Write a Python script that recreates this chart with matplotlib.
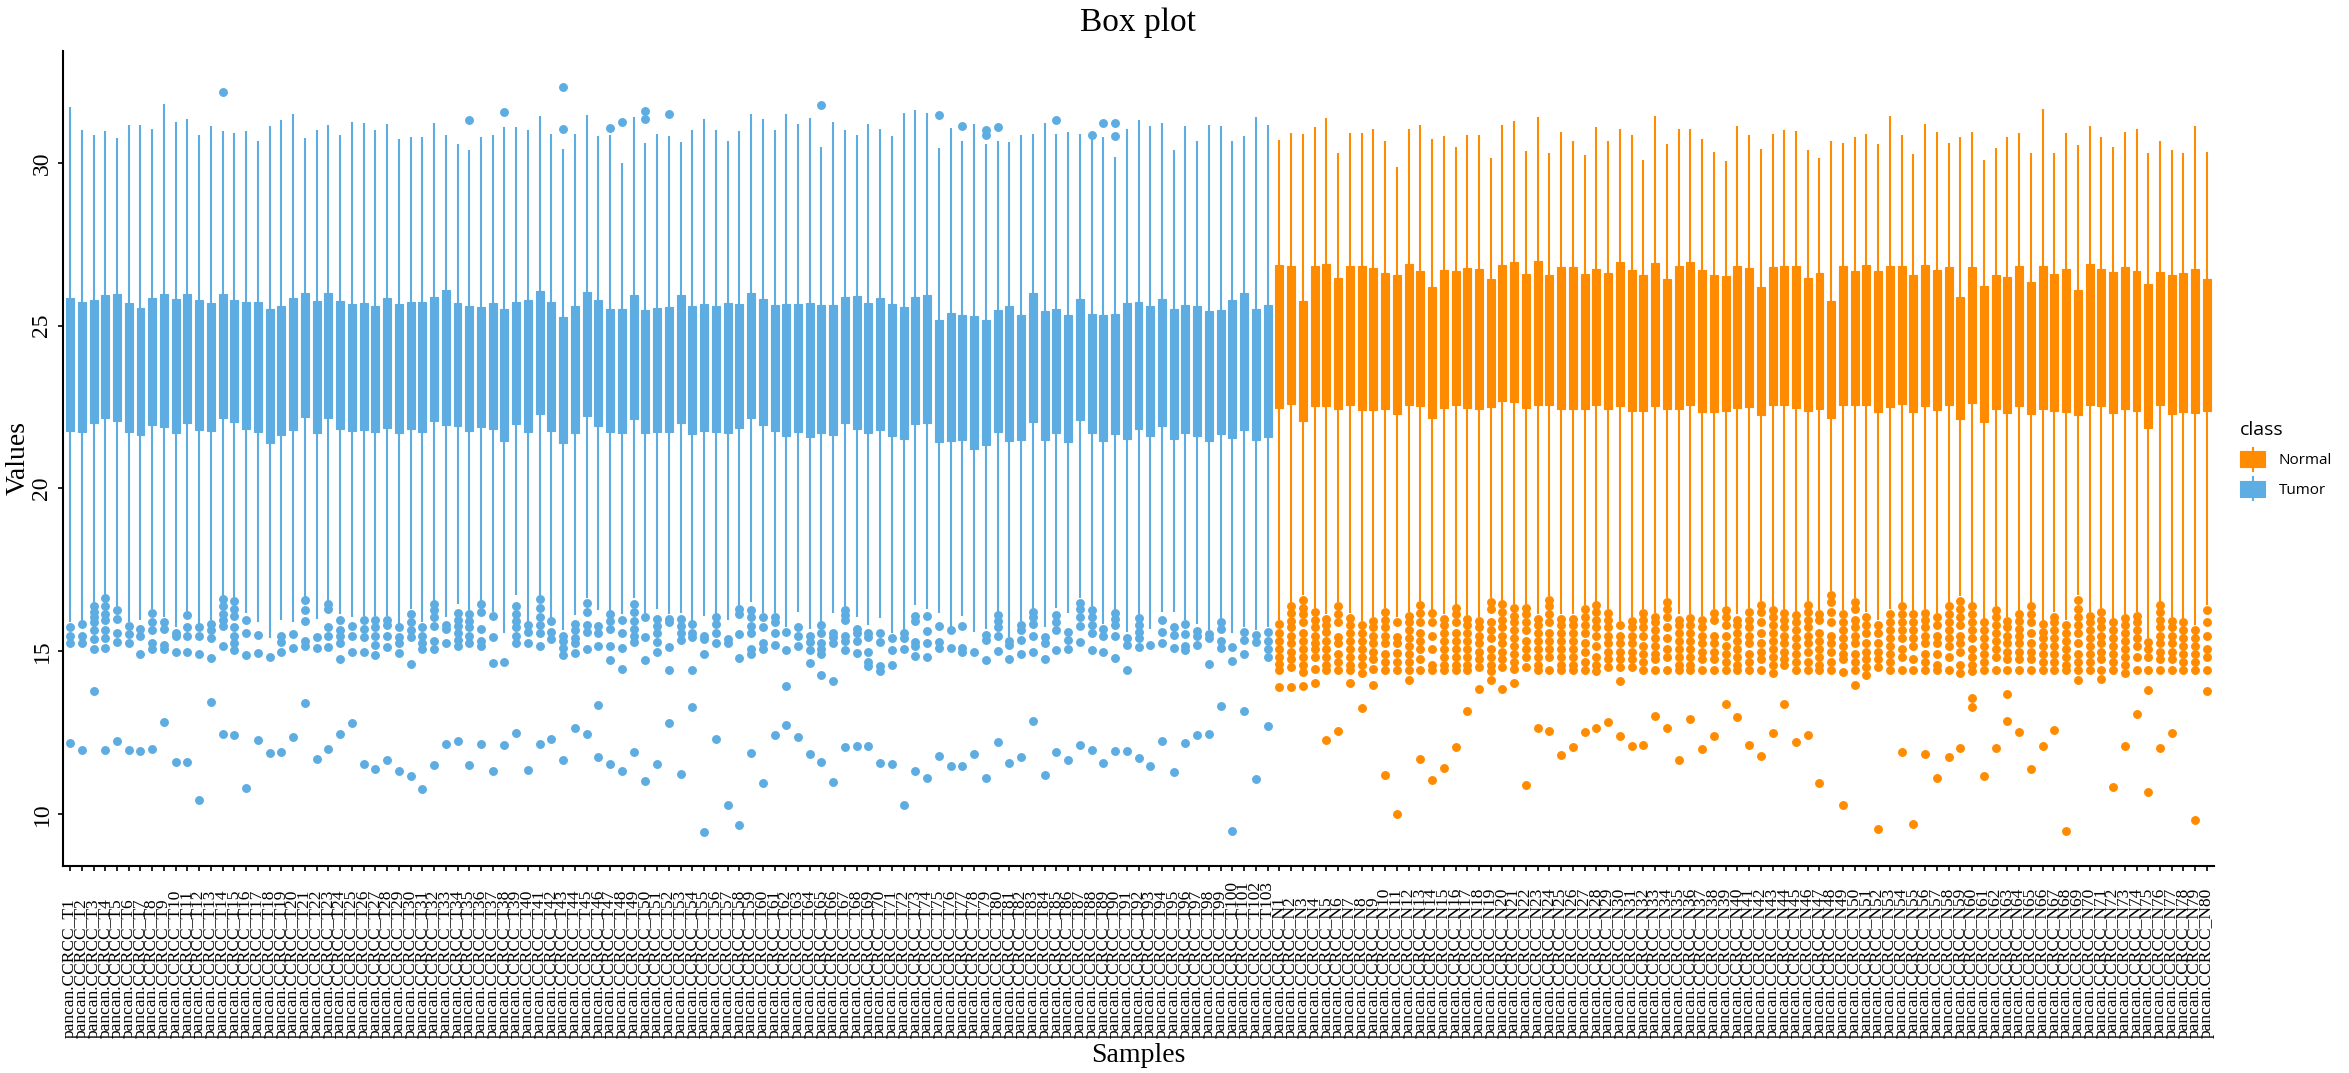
import matplotlib
matplotlib.use("Agg")
import matplotlib.pyplot as plt
import matplotlib.transforms as mtransforms
from matplotlib.patches import Rectangle, Patch
from matplotlib.lines import Line2D
from matplotlib.legend_handler import HandlerBase

TUMOR_COLOR = "#5DADE2"
NORMAL_COLOR = "#FF8C00"
SERIF = ["Liberation Serif", "DejaVu Serif"]

tumor_labels = [f"pancan.CCRCC_T{i}" for i in range(1, 104)]
normal_labels = [f"pancan.CCRCC_N{i}" for i in range(1, 81)]
y_ticks = [10, 15, 20, 25, 30]

tumor_whishi = [
    31.71, 31.01, 30.85, 30.97, 30.77, 31.18, 31.18, 31.05, 31.80, 31.26,
    31.34, 30.85, 31.13, 30.97, 30.92, 30.97, 30.69, 31.15, 31.32, 31.50,
    30.77, 31.01, 31.18, 30.85, 31.27, 31.23, 31.01, 31.21, 30.75, 30.79,
    30.79, 31.23, 30.87, 30.58, 30.40, 30.80, 30.87, 31.10, 31.11, 31.01,
    31.45, 30.88, 30.43, 30.90, 31.47, 30.84, 30.87, 30.01, 31.42, 30.61,
    30.88, 30.84, 30.64, 31.01, 31.36, 31.01, 30.66, 30.97, 31.50, 31.34,
    31.01, 31.49, 31.21, 31.37, 30.48, 31.26, 31.01, 30.85, 31.21, 31.05,
    30.82, 31.52, 31.63, 31.54, 30.45, 31.08, 30.69, 31.19, 30.59, 30.69,
    30.64, 30.87, 30.88, 31.23, 30.88, 30.95, 30.90, 30.77, 30.80, 30.19,
    31.05, 31.32, 31.13, 31.24, 30.41, 31.15, 30.69, 31.18, 31.13, 30.69,
    30.82, 31.42, 31.16]
tumor_q3 = [
    25.86, 25.73, 25.79, 25.94, 25.96, 25.71, 25.55, 25.86, 25.96, 25.83,
    25.96, 25.78, 25.71, 25.96, 25.79, 25.74, 25.73, 25.50, 25.61, 25.84,
    25.99, 25.76, 26.02, 25.76, 25.68, 25.70, 25.61, 25.86, 25.68, 25.73,
    25.74, 25.89, 26.10, 25.71, 25.60, 25.58, 25.71, 25.52, 25.74, 25.79,
    26.07, 25.74, 25.27, 25.60, 26.04, 25.78, 25.50, 25.50, 25.94, 25.47,
    25.53, 25.58, 25.94, 25.60, 25.68, 25.60, 25.70, 25.66, 26.02, 25.81,
    25.65, 25.68, 25.68, 25.70, 25.63, 25.63, 25.89, 25.92, 25.70, 25.86,
    25.66, 25.58, 25.87, 25.94, 25.18, 25.39, 25.32, 25.31, 25.18, 25.48,
    25.60, 25.34, 25.99, 25.45, 25.50, 25.32, 25.81, 25.37, 25.34, 25.37,
    25.70, 25.74, 25.61, 25.83, 25.52, 25.63, 25.60, 25.44, 25.48, 25.79,
    25.99, 25.52, 25.63]
tumor_q1 = [
    21.78, 21.73, 22.00, 22.17, 22.08, 21.73, 21.63, 21.95, 21.89, 21.71,
    22.02, 21.81, 21.76, 22.17, 22.04, 21.84, 21.73, 21.40, 21.63, 21.81,
    22.18, 21.71, 22.17, 21.82, 21.76, 21.81, 21.73, 21.87, 21.71, 21.84,
    21.74, 22.08, 21.94, 21.91, 21.78, 21.89, 21.84, 21.45, 21.99, 21.74,
    22.28, 21.78, 21.40, 21.69, 22.23, 21.92, 21.73, 21.69, 22.13, 21.71,
    21.73, 21.73, 22.02, 21.66, 21.78, 21.73, 21.69, 21.86, 22.17, 21.94,
    21.78, 21.61, 21.73, 21.58, 21.69, 21.65, 22.02, 21.84, 21.69, 21.81,
    21.60, 21.53, 21.97, 22.00, 21.42, 21.47, 21.48, 21.22, 21.32, 21.73,
    21.47, 21.48, 22.04, 21.50, 21.71, 21.43, 22.10, 21.69, 21.47, 21.68,
    21.53, 21.84, 21.61, 21.91, 21.53, 21.69, 21.60, 21.47, 21.66, 21.56,
    21.79, 21.48, 21.58]
tumor_whislo = [
    15.89, 15.94, 16.49, 16.70, 16.38, 15.89, 15.95, 16.29, 16.05, 15.73,
    16.21, 15.84, 15.97, 16.70, 16.62, 16.16, 15.89, 15.40, 15.97, 15.89,
    16.67, 15.99, 16.54, 16.13, 16.05, 16.08, 16.08, 16.08, 15.85, 16.29,
    15.89, 16.54, 16.05, 16.46, 16.25, 16.54, 16.21, 15.56, 16.73, 15.89,
    16.70, 16.00, 15.64, 16.10, 16.62, 16.26, 16.21, 16.13, 16.62, 16.18,
    16.29, 16.13, 16.16, 15.94, 16.08, 16.13, 15.97, 16.38, 16.51, 16.18,
    16.18, 15.73, 16.21, 15.68, 15.89, 16.16, 16.38, 16.05, 15.81, 16.02,
    15.56, 15.64, 16.42, 16.29, 16.16, 15.73, 16.08, 15.60, 15.68, 16.18,
    15.43, 15.94, 16.29, 15.73, 16.33, 16.16, 16.62, 16.38, 15.84, 16.26,
    15.60, 16.13, 15.69, 16.21, 16.21, 15.97, 15.85, 15.64, 16.00, 15.56,
    15.73, 15.64, 15.73]
tumor_fliers = [
    [15.73, 15.48, 15.24, 12.18],
    [15.82, 15.48, 15.24, 11.95],
    [16.38, 16.21, 16.05, 15.89, 15.64, 15.37, 15.06, 13.77],
    [16.62, 16.38, 16.13, 15.97, 15.64, 15.40, 15.11, 11.95],
    [16.25, 16.00, 15.56, 15.29, 12.23],
    [15.76, 15.53, 15.24, 11.95],
    [15.68, 15.48, 14.91, 11.92],
    [16.18, 15.89, 15.66, 15.24, 15.07, 11.98],
    [15.89, 15.68, 15.20, 15.07, 12.81],
    [15.56, 15.48, 14.96, 11.58],
    [16.10, 15.73, 15.48, 14.99, 11.61],
    [15.73, 15.48, 14.91, 10.42],
    [15.85, 15.64, 15.40, 14.78, 13.45],
    [32.19, 16.59, 16.38, 16.13, 15.97, 15.77, 15.16, 12.46],
    [16.54, 16.29, 16.08, 15.73, 15.48, 15.24, 15.04, 12.42],
    [15.97, 15.56, 14.88, 10.81],
    [15.51, 14.94, 12.28],
    [14.83, 11.87],
    [15.48, 15.29, 14.99, 11.90],
    [15.53, 15.11, 12.37],
    [16.57, 16.25, 15.94, 15.32, 15.16, 13.40],
    [15.43, 15.11, 11.69],
    [16.46, 16.29, 15.73, 15.48, 15.12, 11.98],
    [15.97, 15.64, 15.48, 15.24, 14.75, 12.46],
    [15.77, 15.48, 14.99, 12.80],
    [15.97, 15.69, 15.43, 14.96, 11.53],
    [15.97, 15.73, 15.48, 15.20, 14.88, 11.38],
    [15.97, 15.81, 15.48, 15.12, 11.66],
    [15.73, 15.45, 15.24, 14.94, 11.33],
    [16.13, 15.89, 15.64, 15.43, 14.62, 11.15],
    [15.73, 15.48, 15.24, 15.07, 10.76],
    [16.46, 16.25, 16.05, 15.77, 15.32, 15.07, 11.50],
    [15.81, 15.68, 15.24, 12.16],
    [16.18, 15.97, 15.76, 15.56, 15.35, 15.16, 12.23],
    [31.32, 16.15, 15.94, 15.73, 15.48, 15.24, 11.51],
    [16.44, 16.21, 15.69, 15.32, 15.16, 12.16],
    [16.08, 15.45, 14.64, 11.32],
    [31.57, 14.68, 12.13],
    [16.38, 16.13, 15.94, 15.73, 15.48, 15.24, 12.49],
    [15.79, 15.60, 15.25, 11.35],
    [16.60, 16.33, 16.05, 15.81, 15.56, 15.17, 12.16],
    [15.92, 15.60, 15.37, 12.29],
    [32.32, 31.05, 15.48, 15.32, 15.11, 14.88, 11.66],
    [15.84, 15.64, 15.40, 15.24, 14.94, 12.63],
    [16.49, 16.21, 15.81, 15.60, 15.07, 12.46],
    [15.77, 15.56, 15.16, 13.35, 11.76],
    [31.06, 16.13, 15.94, 15.68, 15.16, 14.72, 11.53],
    [31.27, 15.97, 15.56, 15.11, 14.46, 11.33],
    [16.46, 16.21, 15.94, 15.68, 15.48, 15.29, 11.90],
    [31.60, 31.36, 16.05, 15.43, 14.73, 11.01],
    [16.00, 15.76, 15.56, 15.29, 14.99, 11.54],
    [31.49, 16.00, 15.89, 15.12, 14.42, 12.78],
    [16.00, 15.76, 15.56, 15.35, 11.22],
    [15.82, 15.56, 15.43, 14.42, 13.30],
    [15.48, 15.37, 14.91, 9.43],
    [16.05, 15.84, 15.56, 15.24, 12.31],
    [15.37, 15.24, 10.28],
    [16.29, 16.13, 15.53, 14.80, 9.66],
    [16.25, 16.05, 15.76, 15.56, 15.07, 14.91, 11.87],
    [16.05, 15.73, 15.24, 15.07, 10.96],
    [16.05, 15.89, 15.56, 15.19, 12.41],
    [15.60, 15.04, 13.94, 12.72],
    [15.73, 15.48, 15.16, 12.37],
    [15.48, 15.27, 15.03, 14.65, 11.85],
    [31.78, 15.81, 15.56, 15.24, 15.07, 14.91, 14.28, 11.61],
    [15.56, 15.43, 15.24, 14.08, 10.99],
    [16.26, 16.10, 15.97, 15.48, 15.32, 15.03, 12.07],
    [15.69, 15.56, 15.32, 14.94, 12.08],
    [15.56, 15.43, 14.99, 14.67, 14.54, 12.10],
    [15.56, 15.29, 14.54, 14.39, 11.56],
    [15.42, 15.03, 14.59, 11.53],
    [15.56, 15.40, 15.07, 10.28],
    [16.08, 15.94, 15.27, 15.16, 14.86, 11.32],
    [16.08, 15.61, 15.25, 14.83, 11.09],
    [31.47, 15.77, 15.29, 15.11, 11.77],
    [15.66, 15.11, 11.48],
    [31.15, 15.77, 15.11, 14.96, 11.46],
    [14.99, 11.85],
    [31.01, 30.85, 15.51, 15.35, 14.73, 11.11],
    [31.10, 16.10, 15.94, 15.73, 15.48, 15.01, 12.20],
    [15.32, 15.19, 14.77, 11.56],
    [15.81, 15.64, 15.34, 14.91, 11.76],
    [16.21, 16.05, 15.84, 15.48, 14.96, 12.86],
    [15.43, 15.24, 14.75, 11.19],
    [31.32, 16.10, 15.89, 15.64, 15.03, 11.90],
    [15.60, 15.35, 15.07, 11.67],
    [16.49, 16.29, 16.05, 15.76, 15.27, 12.11],
    [30.87, 16.26, 16.05, 15.81, 15.56, 15.03, 11.95],
    [31.24, 15.68, 15.48, 14.99, 11.56],
    [31.23, 30.84, 16.16, 16.00, 15.81, 15.48, 14.80, 11.94],
    [15.40, 15.19, 14.42, 11.94],
    [16.02, 15.81, 15.60, 15.40, 15.12, 11.72],
    [15.20, 11.46],
    [15.97, 15.60, 15.24, 12.23],
    [15.73, 15.51, 15.11, 11.30],
    [15.84, 15.53, 15.16, 15.03, 12.18],
    [15.61, 15.46, 15.20, 12.42],
    [15.53, 15.40, 14.62, 12.46],
    [15.89, 15.68, 15.32, 15.11, 13.32],
    [15.14, 14.70, 9.46],
    [15.60, 15.35, 14.91, 13.17],
    [15.50, 15.27, 11.06],
    [15.60, 15.32, 15.07, 14.83, 12.70],
]

normal_whishi = [
    30.72, 30.92, 30.88, 31.10, 31.39, 30.30, 30.92, 30.93, 31.05, 30.69,
    29.88, 31.05, 31.18, 30.74, 30.82, 30.50, 30.87, 30.87, 30.15, 31.18,
    31.29, 30.38, 31.41, 30.30, 30.95, 30.69, 30.25, 31.10, 30.66, 31.03,
    30.85, 30.09, 31.45, 30.58, 31.05, 31.05, 30.74, 30.33, 30.06, 31.15,
    30.85, 30.43, 30.88, 31.01, 30.97, 30.40, 30.14, 30.69, 30.61, 30.79,
    30.88, 30.59, 31.44, 30.85, 30.28, 31.21, 30.95, 30.62, 30.80, 30.95,
    30.10, 30.46, 30.80, 30.92, 30.32, 31.67, 30.30, 30.93, 30.54, 31.13,
    30.79, 30.50, 30.95, 31.05, 30.32, 30.67, 30.40, 30.32, 31.15, 30.33]
normal_q3 = [
    26.88, 26.83, 25.76, 26.83, 26.90, 26.48, 26.82, 26.83, 26.77, 26.62,
    26.57, 26.90, 26.67, 26.20, 26.72, 26.69, 26.77, 26.75, 26.43, 26.88,
    26.95, 26.59, 26.98, 26.56, 26.80, 26.80, 26.59, 26.74, 26.62, 26.95,
    26.72, 26.57, 26.92, 26.43, 26.83, 26.95, 26.70, 26.56, 26.54, 26.82,
    26.77, 26.18, 26.79, 26.83, 26.82, 26.46, 26.62, 25.76, 26.82, 26.69,
    26.87, 26.69, 26.82, 26.82, 26.57, 26.87, 26.70, 26.79, 25.87, 26.80,
    26.22, 26.57, 26.49, 26.83, 26.33, 26.83, 26.59, 26.74, 26.10, 26.90,
    26.74, 26.64, 26.79, 26.69, 26.27, 26.66, 26.56, 26.62, 26.74, 26.44]
normal_q1 = [
    22.46, 22.59, 22.07, 22.52, 22.52, 22.43, 22.56, 22.41, 22.41, 22.44,
    22.28, 22.56, 22.54, 22.17, 22.46, 22.56, 22.46, 22.43, 22.49, 22.69,
    22.65, 22.46, 22.56, 22.56, 22.44, 22.44, 22.44, 22.56, 22.44, 22.52,
    22.38, 22.38, 22.54, 22.44, 22.44, 22.56, 22.35, 22.35, 22.38, 22.48,
    22.51, 22.25, 22.56, 22.56, 22.48, 22.39, 22.44, 22.15, 22.56, 22.56,
    22.57, 22.35, 22.49, 22.59, 22.35, 22.54, 22.41, 22.57, 22.13, 22.62,
    22.04, 22.44, 22.31, 22.52, 22.30, 22.43, 22.38, 22.36, 22.26, 22.56,
    22.52, 22.31, 22.43, 22.39, 21.87, 22.56, 22.30, 22.35, 22.31, 22.39]
normal_whislo = [
    15.97, 16.46, 16.73, 16.34, 16.13, 16.51, 16.18, 15.92, 16.05, 16.34,
    16.05, 16.21, 16.54, 16.26, 16.13, 16.41, 16.10, 16.05, 16.62, 16.54,
    16.46, 16.46, 16.13, 16.70, 16.13, 16.13, 16.41, 16.51, 16.29, 15.92,
    16.05, 16.29, 16.16, 16.62, 16.13, 16.13, 16.08, 16.29, 16.38, 16.13,
    16.34, 16.54, 16.38, 16.29, 16.21, 16.54, 16.25, 16.86, 16.25, 16.62,
    16.21, 15.97, 16.29, 16.49, 16.21, 16.29, 16.18, 16.49, 16.70, 16.49,
    16.00, 16.38, 16.05, 16.21, 16.49, 15.94, 16.21, 15.97, 16.73, 16.21,
    16.34, 16.00, 16.13, 16.21, 15.40, 16.51, 16.05, 16.00, 15.81, 16.41]
normal_fliers = [
    [15.84, 15.56, 15.32, 15.07, 14.83, 14.62, 14.42, 13.90],
    [16.38, 16.18, 15.94, 15.73, 15.48, 15.24, 14.99, 14.75, 14.50, 13.90],
    [16.57, 16.34, 16.13, 15.89, 15.56, 15.32, 15.07, 14.83, 14.59, 14.37, 13.92],
    [16.21, 15.97, 15.73, 15.48, 15.24, 15.07, 14.83, 14.46, 14.02],
    [16.00, 15.81, 15.60, 15.32, 15.07, 14.83, 14.59, 14.42, 12.28],
    [16.38, 16.13, 15.89, 15.43, 15.24, 14.91, 14.67, 14.42, 12.54],
    [16.02, 15.81, 15.56, 15.32, 15.07, 14.83, 14.59, 14.42, 14.03],
    [15.81, 15.56, 15.32, 15.07, 14.83, 14.59, 14.34, 13.24],
    [15.92, 15.73, 15.48, 15.24, 14.99, 14.75, 14.46, 13.97],
    [16.21, 15.97, 15.73, 15.48, 15.24, 14.91, 14.67, 14.42, 11.19],
    [15.89, 15.43, 15.24, 14.94, 14.67, 14.42, 10.00],
    [16.08, 15.89, 15.64, 15.40, 15.16, 14.91, 14.67, 14.42, 14.11],
    [16.41, 16.18, 15.89, 15.56, 15.32, 15.07, 14.75, 14.42, 11.69],
    [16.16, 15.89, 15.48, 15.07, 14.59, 14.42, 11.04],
    [16.00, 15.81, 15.56, 15.32, 15.07, 14.83, 14.59, 14.42, 11.41],
    [16.34, 16.13, 15.89, 15.56, 15.32, 15.07, 14.83, 14.59, 14.42, 12.07],
    [16.00, 15.81, 15.56, 15.32, 15.07, 14.83, 14.59, 14.42, 13.16],
    [15.94, 15.73, 15.48, 15.24, 14.99, 14.75, 14.50, 13.84],
    [16.51, 16.29, 15.89, 15.64, 15.40, 15.07, 14.83, 14.59, 14.39, 14.13],
    [16.46, 16.21, 15.97, 15.73, 15.48, 15.24, 14.99, 14.75, 14.50, 13.85],
    [16.34, 16.08, 15.89, 15.64, 15.40, 15.16, 14.91, 14.67, 14.46, 14.03],
    [16.34, 16.13, 15.89, 15.64, 15.32, 15.07, 14.83, 14.50, 10.89],
    [16.00, 15.81, 15.56, 15.32, 15.07, 14.83, 14.59, 14.42, 12.65],
    [16.57, 16.38, 16.13, 15.89, 15.56, 15.32, 15.07, 14.83, 14.42, 12.54],
    [16.00, 15.81, 15.56, 15.32, 15.07, 14.83, 14.59, 14.42, 11.80],
    [16.00, 15.81, 15.56, 15.32, 15.07, 14.83, 14.59, 14.42, 12.07],
    [16.31, 16.05, 15.81, 15.56, 15.24, 14.99, 14.67, 14.42, 12.52],
    [16.41, 16.21, 15.97, 15.73, 15.48, 15.16, 14.83, 14.59, 14.39, 12.65],
    [16.18, 15.97, 15.73, 15.48, 15.24, 14.99, 14.75, 14.50, 12.83],
    [15.81, 15.48, 15.24, 14.99, 14.75, 14.50, 14.07, 12.39],
    [15.92, 15.73, 15.48, 15.24, 14.99, 14.75, 14.50, 12.10],
    [16.16, 15.97, 15.73, 15.48, 15.16, 14.91, 14.67, 14.42, 12.13],
    [16.05, 15.89, 15.64, 15.40, 15.16, 14.91, 14.75, 14.42, 13.01],
    [16.51, 16.29, 16.05, 15.73, 15.40, 15.07, 14.83, 14.42, 12.63],
    [15.97, 15.81, 15.56, 15.32, 15.07, 14.83, 14.59, 14.42, 11.66],
    [16.02, 15.81, 15.56, 15.32, 15.07, 14.83, 14.59, 14.42, 12.91],
    [15.97, 15.73, 15.48, 15.24, 14.99, 14.75, 14.42, 11.98],
    [16.16, 15.97, 15.48, 15.24, 14.99, 14.75, 14.42, 12.39],
    [16.25, 16.05, 15.81, 15.48, 15.16, 14.91, 14.67, 14.42, 13.38],
    [15.97, 15.81, 15.56, 15.32, 15.07, 14.83, 14.59, 14.42, 12.98],
    [16.21, 15.97, 15.73, 15.48, 15.24, 14.91, 14.67, 14.42, 12.11],
    [16.41, 16.21, 15.89, 15.56, 15.24, 14.99, 14.75, 14.42, 11.79],
    [16.25, 16.05, 15.81, 15.56, 15.32, 15.07, 14.83, 14.59, 14.34, 12.49],
    [16.16, 15.97, 15.73, 15.48, 15.24, 14.99, 14.75, 14.59, 13.37],
    [16.10, 15.89, 15.64, 15.40, 15.16, 14.91, 14.67, 14.42, 12.21],
    [16.43, 16.21, 15.97, 15.73, 15.48, 15.24, 14.99, 14.67, 14.42, 12.42],
    [16.13, 15.97, 15.56, 15.32, 15.07, 14.83, 14.59, 14.42, 10.94],
    [16.73, 16.51, 16.21, 15.89, 15.48, 15.24, 14.99, 14.67, 14.42],
    [16.13, 15.89, 15.64, 15.40, 15.16, 14.91, 14.75, 14.37, 10.26],
    [16.51, 16.29, 15.97, 15.73, 15.48, 15.24, 14.91, 14.67, 14.42, 13.97],
    [16.05, 15.81, 15.56, 15.24, 14.99, 14.75, 14.50, 14.26],
    [15.81, 15.56, 15.24, 14.99, 14.75, 14.50, 9.54],
    [16.13, 15.89, 15.64, 15.40, 15.16, 14.91, 14.67, 14.42],
    [16.38, 16.13, 15.89, 15.64, 15.40, 15.07, 14.83, 14.42, 11.90],
    [16.13, 15.89, 15.64, 15.40, 15.16, 14.75, 14.42, 9.69],
    [16.18, 15.97, 15.73, 15.48, 15.24, 14.91, 14.67, 14.42, 11.84],
    [16.05, 15.81, 15.48, 15.24, 14.91, 14.59, 14.42, 11.11],
    [16.38, 16.13, 15.89, 15.64, 15.40, 15.16, 14.83, 14.42, 11.76],
    [16.54, 16.29, 16.05, 15.81, 15.48, 15.24, 14.99, 14.59, 14.34, 12.02],
    [16.38, 16.13, 15.89, 15.64, 15.40, 15.07, 14.83, 14.59, 14.39, 13.55, 13.29],
    [15.89, 15.64, 15.40, 15.16, 14.91, 14.67, 14.42, 11.15],
    [16.26, 16.05, 15.81, 15.56, 15.32, 15.07, 14.83, 14.42, 12.03],
    [15.94, 15.73, 15.48, 15.24, 14.99, 14.75, 14.42, 13.68, 12.85],
    [16.13, 15.92, 15.69, 15.48, 15.24, 14.99, 14.75, 14.42, 12.52],
    [16.38, 16.13, 15.89, 15.56, 15.24, 14.99, 14.75, 14.42, 11.37],
    [15.84, 15.60, 15.40, 15.16, 14.91, 14.67, 14.42, 12.10],
    [16.05, 15.89, 15.64, 15.40, 15.16, 14.91, 14.67, 14.42, 12.59],
    [15.81, 15.56, 15.32, 15.07, 14.83, 14.59, 14.42, 9.46],
    [16.57, 16.29, 16.05, 15.81, 15.56, 15.24, 14.91, 14.67, 14.42, 14.11],
    [16.08, 15.89, 15.64, 15.40, 15.16, 14.91, 14.67, 14.42],
    [16.21, 15.97, 15.73, 15.48, 15.24, 14.99, 14.75, 14.42, 14.15],
    [15.89, 15.64, 15.40, 15.16, 14.91, 14.67, 14.42, 10.83],
    [16.02, 15.81, 15.56, 15.32, 15.07, 14.83, 14.59, 14.34, 12.10],
    [16.08, 15.89, 15.64, 15.40, 15.16, 14.83, 14.42, 13.06],
    [15.27, 15.07, 14.83, 14.42, 13.82, 10.67],
    [16.41, 16.21, 15.97, 15.73, 15.48, 15.24, 14.99, 14.75, 14.42, 12.02],
    [15.92, 15.73, 15.48, 15.24, 14.99, 14.75, 14.42, 12.49],
    [15.89, 15.64, 15.40, 15.16, 14.91, 14.67, 14.42],
    [15.64, 15.40, 15.16, 14.91, 14.67, 14.42, 9.82],
    [16.25, 15.89, 15.48, 15.07, 14.83, 14.42, 13.79],
]


def make_stats(lo, q1, q3, hi, fl):
    # median line is not visible in the reference (drawn in the box colour)
    return [dict(whislo=a, q1=b, med=b, q3=c, whishi=d, fliers=e)
            for a, b, c, d, e in zip(lo, q1, q3, hi, fl)]


W, H = 2349, 1073
fig = plt.figure(figsize=(W / 100, H / 100), dpi=100)
ax = fig.add_axes([63 / W, 1 - 866 / H, (2214 - 63) / W, (866 - 51) / H])

groups = [
    (make_stats(tumor_whislo, tumor_q1, tumor_q3, tumor_whishi, tumor_fliers), TUMOR_COLOR, 0),
    (make_stats(normal_whislo, normal_q1, normal_q3, normal_whishi, normal_fliers), NORMAL_COLOR, len(tumor_q1)),
]
for stats, col, off in groups:
    ax.bxp(stats, positions=[off + i for i in range(len(stats))], widths=0.68,
           patch_artist=True, showcaps=False,
           boxprops=dict(facecolor=col, edgecolor=col, linewidth=0.8),
           whiskerprops=dict(color=col, linewidth=1.5, solid_capstyle="butt"),
           medianprops=dict(linewidth=0),
           flierprops=dict(marker="o", markerfacecolor=col, markeredgecolor=col,
                           markersize=5.4, linestyle="none"))

labels = tumor_labels + normal_labels
n = len(labels)
ax.set_xlim(-0.6, n - 1 + 0.6)
ax.set_ylim(8.40, 33.44)

for s in ["top", "right"]:
    ax.spines[s].set_visible(False)
for s in ["left", "bottom"]:
    ax.spines[s].set_linewidth(1.5)
    ax.spines[s].set_color("black")

ax.set_xticks(range(n))
ax.set_xticklabels([""] * n)
ax.set_yticks(y_ticks)
ax.set_yticklabels([str(v) for v in y_ticks], rotation=90, va="center",
                   fontfamily=SERIF, fontsize=17)
ax.tick_params(axis="both", length=3.6, width=1.2, color="black")
ax.tick_params(axis="y", pad=4)

trans = mtransforms.blended_transform_factory(ax.transData, fig.transFigure)
for i, lab in enumerate(labels):
    ax.text(i, 1 - 1038 / H, lab, rotation=90, ha="center", va="bottom",
            fontfamily=SERIF, fontsize=12.5, transform=trans, clip_on=False)

fig.text((63 + 2214) / 2 / W, 1 - 23 / H, "Box plot", ha="center", va="center",
         fontfamily=SERIF, fontsize=24)
fig.text((63 + 2214) / 2 / W, 1 - 1056 / H, "Samples", ha="center", va="center",
         fontfamily=SERIF, fontsize=20)
fig.text(18 / W, 1 - 458 / H, "Values", ha="center", va="center", rotation=90,
         fontfamily=SERIF, fontsize=20)


class BoxHandler(HandlerBase):
    def create_artists(self, legend, orig_handle, xdescent, ydescent, width,
                       height, fontsize, trans):
        c = orig_handle.get_facecolor()
        r = Rectangle((-xdescent, -ydescent), width, height, facecolor=c,
                      edgecolor=c, lw=0.8, transform=trans)
        cx = -xdescent + width / 2
        ln = Line2D([cx, cx], [-ydescent - 0.2 * height, -ydescent + 1.2 * height],
                    color=c, lw=1.5, transform=trans)
        return [ln, r]


handles = [Patch(facecolor=NORMAL_COLOR, label="Normal"),
           Patch(facecolor=TUMOR_COLOR, label="Tumor")]
fig.legend(handles=handles, title="class", handler_map={Patch: BoxHandler()},
           loc="upper left", bbox_to_anchor=(2240 / W, 1 - 421 / H),
           frameon=False, prop={"family": "Open Sans", "size": 11},
           title_fontproperties={"family": "Open Sans", "size": 14},
           handlelength=1.65, handleheight=1.25, handletextpad=0.9,
           labelspacing=0.8, borderpad=0, borderaxespad=0, alignment="left")

fig.savefig("out.png", dpi=100)
